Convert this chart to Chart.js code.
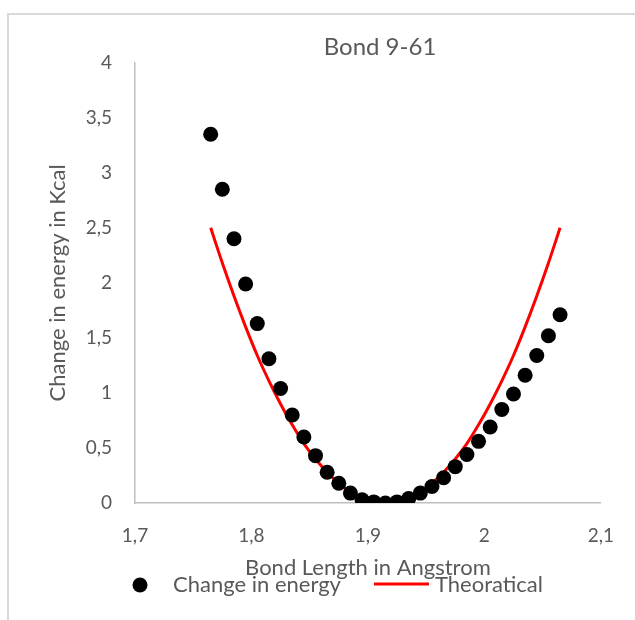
<!DOCTYPE html>
<html>
<head>
<meta charset="utf-8">
<script src="https://cdn.jsdelivr.net/npm/chart.js@4.4.1/dist/chart.umd.min.js"></script>
<style>
  html, body { margin: 0; padding: 0; background: #ffffff; }
  #wrap { position: relative; width: 635px; height: 620px; overflow: hidden; }
  #frame { position: absolute; left: 7px; top: 13px; width: 700px; height: 700px;
           border-left: 2px solid #d9d9d9; border-top: 2px solid #d9d9d9; }
  canvas { position: absolute; left: 0; top: 0; }
</style>
</head>
<body>
<div id="wrap">
  <div id="frame"></div>
  <canvas id="c" width="635" height="620"></canvas>
</div>
<script>
// Bond length (Å) of each scan step
const bondLength = [1.765, 1.775, 1.785, 1.795, 1.805, 1.815, 1.825, 1.835, 1.845, 1.855,
                    1.865, 1.875, 1.885, 1.895, 1.905, 1.915, 1.925, 1.935, 1.945, 1.955,
                    1.965, 1.975, 1.985, 1.995, 2.005, 2.015, 2.025, 2.035, 2.045, 2.055, 2.065];
// Computed change in energy (kcal)
const energyChange = [3.35, 2.85, 2.40, 1.99, 1.63, 1.31, 1.04, 0.80, 0.60, 0.43,
                      0.28, 0.18, 0.09, 0.03, 0.01, 0.00, 0.01, 0.04, 0.09, 0.15,
                      0.23, 0.33, 0.44, 0.56, 0.69, 0.85, 0.99, 1.16, 1.34, 1.52, 1.71];
// Theoretical (harmonic) curve (kcal)
const theoretical = [2.50, 2.18, 1.88, 1.60, 1.34, 1.11, 0.90, 0.71, 0.54, 0.40,
                     0.28, 0.18, 0.10, 0.04, 0.01, 0.00, 0.01, 0.04, 0.10, 0.18,
                     0.28, 0.40, 0.54, 0.71, 0.90, 1.11, 1.34, 1.60, 1.88, 2.18, 2.50];
const xTicks = [1.7, 1.8, 1.9, 2.0, 2.1];
const yTicks = [0, 0.5, 1, 1.5, 2, 2.5, 3, 3.5, 4];

const seriesNames = ['Change in energy', 'Theoratical'];
const chartTitle = 'Bond 9-61';
const xTitle = 'Bond Length in Angstrom';
const yTitle = 'Change in energy in Kcal';

const FONT = 'Lato, Carlito, Calibri, sans-serif';
const GREY = '#595959';
const fmt = v => String(Math.round(v * 10) / 10).replace('.', ',');

const pairs = ys => bondLength.map((x, i) => ({ x: x, y: ys[i] }));

// chart title and legend row
const decorations = {
  id: 'decorations',
  afterDraw(chart) {
    const ctx = chart.ctx;
    const ds = chart.data.datasets;
    ctx.save();
    ctx.fillStyle = GREY;
    ctx.textBaseline = 'middle';
    ctx.textAlign = 'center';
    ctx.font = '24px ' + FONT;
    ctx.fillText(chartTitle, 380, 47);

    ctx.font = '22px ' + FONT;
    ctx.textAlign = 'left';
    // scatter marker
    ctx.beginPath();
    ctx.arc(140, 585, 7.5, 0, Math.PI * 2);
    ctx.fillStyle = ds[0].backgroundColor;
    ctx.fill();
    ctx.fillStyle = GREY;
    ctx.fillText(ds[0].label, 173, 585);
    // line marker
    ctx.beginPath();
    ctx.moveTo(374, 584);
    ctx.lineTo(429, 584);
    ctx.strokeStyle = ds[1].borderColor;
    ctx.lineWidth = 3;
    ctx.stroke();
    ctx.fillText(ds[1].label, 435, 585);
    ctx.restore();
  }
};

new Chart(document.getElementById('c'), {
  type: 'scatter',
  data: {
    datasets: [
      {
        label: seriesNames[0],
        data: pairs(energyChange),
        backgroundColor: '#000000',
        borderColor: '#000000',
        borderWidth: 0,
        pointRadius: 7.5,
        pointHoverRadius: 7.5
      },
      {
        type: 'line',
        label: seriesNames[1],
        data: pairs(theoretical),
        borderColor: '#ff0000',
        backgroundColor: '#ff0000',
        borderWidth: 3,
        pointRadius: 0,
        cubicInterpolationMode: 'monotone',
        fill: false
      }
    ]
  },
  options: {
    responsive: false,
    animation: false,
    events: [],
    layout: { padding: { top: 62.7, left: 0, right: 28, bottom: 0 } },
    plugins: {
      legend: { display: false },
      title: { display: false },
      tooltip: { enabled: false }
    },
    scales: {
      x: {
        type: 'linear',
        min: 1.7,
        max: 2.1,
        afterBuildTicks: s => { s.ticks = xTicks.map(v => ({ value: v })); },
        afterFit: s => { s.height = 117; },
        grid: { display: false, drawTicks: false },
        border: { display: true, color: '#bfbfbf', width: 1.5 },
        ticks: {
          padding: 21,
          color: GREY,
          font: { family: FONT, size: 19 },
          callback: v => fmt(v),
          maxRotation: 0
        },
        title: {
          display: true,
          text: xTitle,
          color: GREY,
          font: { family: FONT, size: 22 },
          padding: { top: 0, bottom: 38.8 }
        }
      },
      y: {
        type: 'linear',
        min: 0,
        max: 4,
        afterBuildTicks: s => { s.ticks = yTicks.map(v => ({ value: v })); },
        afterFit: s => { s.width = 135; },
        grid: { display: false, drawTicks: false },
        border: { display: true, color: '#bfbfbf', width: 1.5 },
        ticks: {
          padding: 23,
          color: GREY,
          font: { family: FONT, size: 19 },
          callback: v => fmt(v)
        },
        title: {
          display: true,
          text: yTitle,
          color: GREY,
          font: { family: FONT, size: 22 },
          padding: { top: 44.8, bottom: 0 }
        }
      }
    }
  },
  plugins: [decorations]
});
</script>
</body>
</html>
